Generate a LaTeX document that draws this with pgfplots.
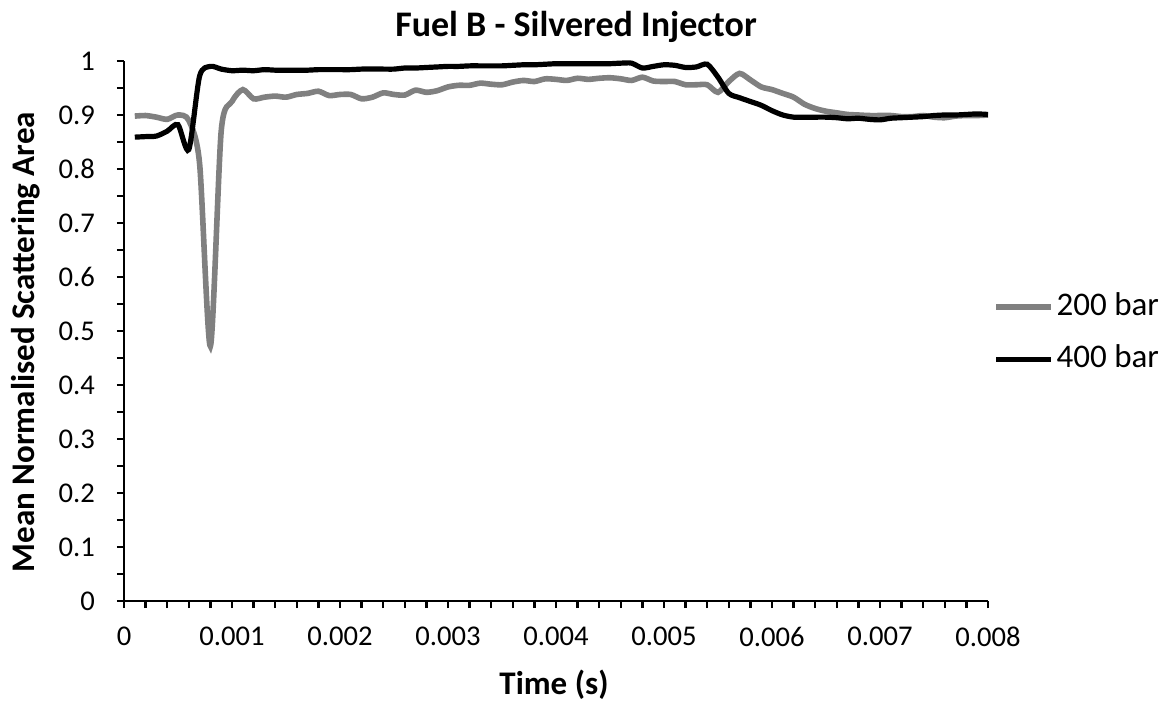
\documentclass[border=0pt]{standalone}
\usepackage{pgfplots}
\pgfplotsset{compat=1.18}
\usepackage{fontspec}
\setmainfont{Carlito}
\definecolor{g200}{RGB}{128,128,128}
\begin{document}
\begin{tikzpicture}
\begin{axis}[
  at={(0,0)}, anchor=south west,
  scale only axis, width=432pt, height=270pt,
  xmin=0, xmax=0.008, ymin=0, ymax=1,
  axis lines=left,
  axis line style={-, line width=1.2pt},
  every tick/.style={black, line width=1.2pt},
  tick align=outside,
  major tick length=3.5pt, minor tick length=3.5pt,
  xtick={0,0.001,0.002,0.003,0.004,0.005,0.006,0.007,0.008},
  xticklabels={0,0.001,0.002,0.003,0.004,0.005,0.006,0.007,0.008},
  scaled x ticks=false,
  ytick={0,0.1,0.2,0.3,0.4,0.5,0.6,0.7,0.8,0.9,1},
  yticklabels={0,0.1,0.2,0.3,0.4,0.5,0.6,0.7,0.8,0.9,1},
  minor x tick num=4, minor y tick num=1,
  /pgf/number format/assume math mode=true,
  tick label style={font=\fontsize{14.3}{16}\selectfont},
  xticklabel style={yshift=-6pt},
  yticklabel style={xshift=-7.5pt},
  legend style={draw=none, fill=none, at={(axis description cs:1.006,0.496)}, anchor=west,
    font=\fontsize{16.5}{18}\selectfont, inner sep=0pt, row sep=10pt,
    nodes={inner xsep=1.25pt, inner ysep=1pt, text height=11pt, text depth=3pt}},
  legend cell align=left,
  legend image code/.code={\draw[#1] (0pt,0pt) -- (27.5pt,0pt);},
  clip=false,
]
\addplot[g200, line width=2.8pt, smooth, tension=0.45] coordinates {
(0.0001,0.898) (0.0002,0.899) (0.0003,0.896) (0.0004,0.892) (0.0005,0.900)
(0.0006,0.890) (0.0007,0.810) (0.0008,0.472) (0.0009,0.870) (0.0010,0.925)
(0.0011,0.947) (0.0012,0.930) (0.0013,0.933) (0.0014,0.935) (0.0015,0.933)
(0.0016,0.938) (0.0017,0.940) (0.0018,0.944) (0.0019,0.936) (0.0020,0.938)
(0.0021,0.938) (0.0022,0.930) (0.0023,0.933) (0.0024,0.941) (0.0025,0.938)
(0.0026,0.937) (0.0027,0.946) (0.0028,0.942) (0.0029,0.945) (0.0030,0.952)
(0.0031,0.955) (0.0032,0.955) (0.0033,0.959) (0.0034,0.957) (0.0035,0.956)
(0.0036,0.961) (0.0037,0.964) (0.0038,0.962) (0.0039,0.967) (0.0040,0.966)
(0.0041,0.964) (0.0042,0.968) (0.0043,0.966) (0.0044,0.968) (0.0045,0.969)
(0.0046,0.967) (0.0047,0.964) (0.0048,0.970) (0.0049,0.963) (0.0050,0.962)
(0.0051,0.962) (0.0052,0.956) (0.0053,0.956) (0.0054,0.956) (0.0055,0.942)
(0.0056,0.962) (0.0057,0.977) (0.0058,0.965) (0.0059,0.952) (0.0060,0.947)
(0.0061,0.940) (0.0062,0.933) (0.0063,0.920) (0.0064,0.912) (0.0065,0.907)
(0.0066,0.904) (0.0067,0.901) (0.0068,0.900) (0.0069,0.899) (0.0070,0.899)
(0.0071,0.899) (0.0072,0.897) (0.0073,0.897) (0.0074,0.899) (0.0075,0.896)
(0.0076,0.895) (0.0077,0.898) (0.0078,0.899) (0.0079,0.899) (0.0080,0.900)
};
\addlegendentry{200 bar}
\addplot[black, line width=2.6pt, smooth, tension=0.45] coordinates {
(0.0001,0.859) (0.0002,0.860) (0.0003,0.861) (0.0004,0.870) (0.0005,0.882)
(0.0006,0.836) (0.0007,0.972) (0.0008,0.990) (0.0009,0.985) (0.0010,0.982)
(0.0011,0.983) (0.0012,0.982) (0.0013,0.984) (0.0014,0.983) (0.0015,0.983)
(0.0016,0.983) (0.0017,0.983) (0.0018,0.984) (0.0019,0.984) (0.0020,0.984)
(0.0021,0.984) (0.0022,0.985) (0.0023,0.985) (0.0024,0.985) (0.0025,0.985)
(0.0026,0.987) (0.0027,0.987) (0.0028,0.988) (0.0029,0.989) (0.0030,0.990)
(0.0031,0.990) (0.0032,0.991) (0.0033,0.991) (0.0034,0.991) (0.0035,0.991)
(0.0036,0.992) (0.0037,0.993) (0.0038,0.993) (0.0039,0.994) (0.0040,0.995)
(0.0041,0.995) (0.0042,0.995) (0.0043,0.995) (0.0044,0.995) (0.0045,0.995)
(0.0046,0.996) (0.0047,0.996) (0.0048,0.987) (0.0049,0.990) (0.0050,0.993)
(0.0051,0.992) (0.0052,0.988) (0.0053,0.989) (0.0054,0.994) (0.0055,0.970)
(0.0056,0.940) (0.0057,0.932) (0.0058,0.925) (0.0059,0.918) (0.0060,0.908)
(0.0061,0.900) (0.0062,0.896) (0.0063,0.896) (0.0064,0.896) (0.0065,0.896)
(0.0066,0.895) (0.0067,0.893) (0.0068,0.894) (0.0069,0.892) (0.0070,0.891)
(0.0071,0.894) (0.0072,0.895) (0.0073,0.896) (0.0074,0.897) (0.0075,0.899)
(0.0076,0.900) (0.0077,0.900) (0.0078,0.901) (0.0079,0.902) (0.0080,0.901)
};
\addlegendentry{400 bar}
\end{axis}
\node[font=\fontsize{18}{20}\selectfont\bfseries, anchor=base] at (226pt,282pt) {Fuel B - Silvered Injector};
\node[font=\fontsize{16.5}{18}\selectfont\bfseries, anchor=center] at (215pt,-42pt) {Time (s)};
\node[font=\fontsize{16.5}{18}\selectfont\bfseries, anchor=center, rotate=90] at (-49pt,129.5pt) {Mean Normalised Scattering Area};
\pgfresetboundingbox
\path[use as bounding box] (-62pt,-51pt) rectangle (521pt,300.5pt);
\end{tikzpicture}
\end{document}
